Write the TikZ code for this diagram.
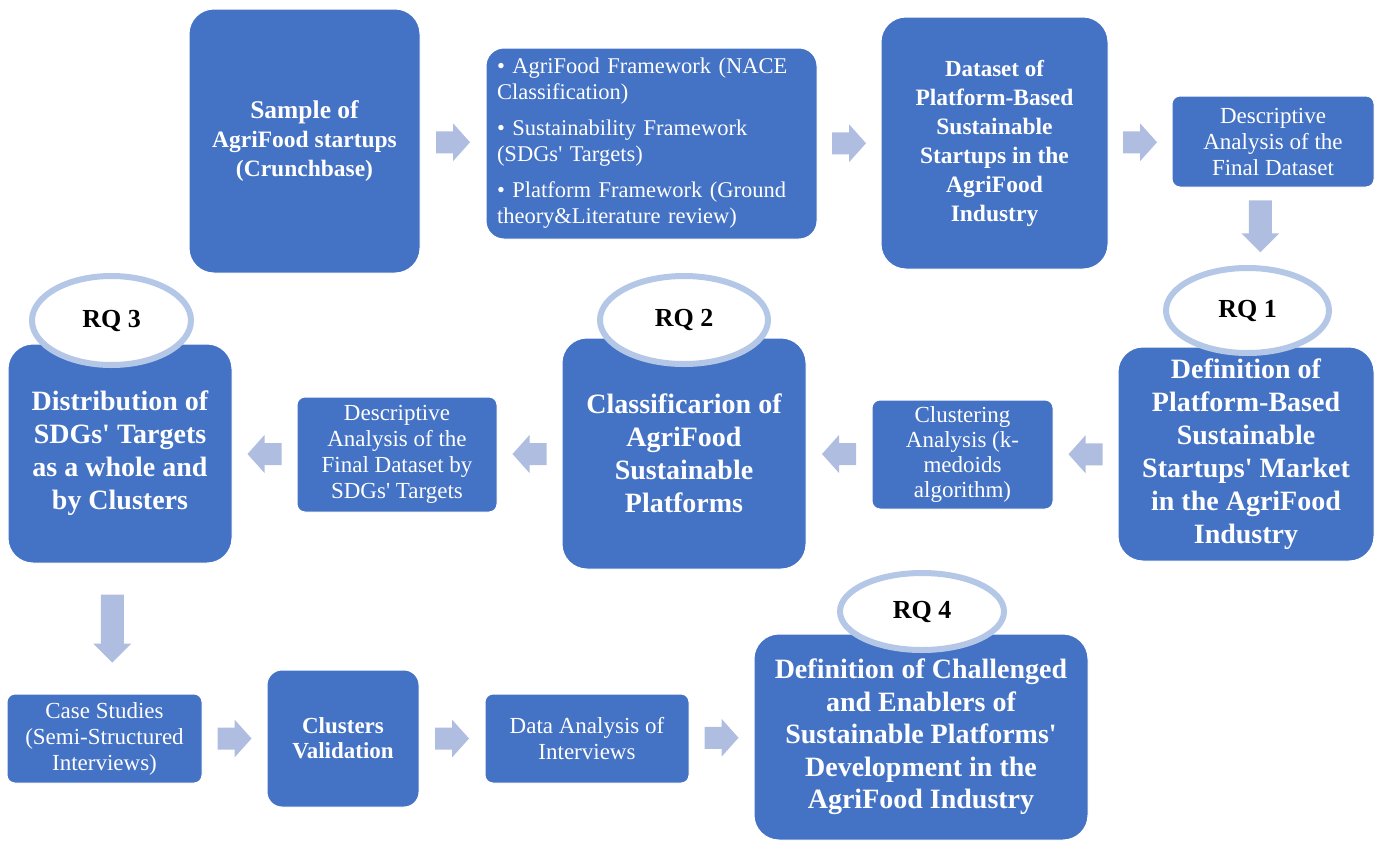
\documentclass[tikz,border=0pt]{standalone}
\usepackage{fontspec}
\setmainfont{Liberation Serif}
\usetikzlibrary{shapes.geometric,calc}

\definecolor{boxblue}{HTML}{4472C4}
\definecolor{arrowblue}{HTML}{AFBDE0}
\definecolor{ringblue}{HTML}{B4C7E7}

\newcommand\sq{\textquotesingle}

% block arrow: centre, rotation, length, head width, shaft width, head length
\newcommand\blockarrow[6]{%
  \fill[arrowblue, shift={(#1)}, rotate=#2]
    (-#3/2,-#5/2) -- (#3/2-#6,-#5/2) -- (#3/2-#6,-#4/2) -- (#3/2,0)
    -- (#3/2-#6,#4/2) -- (#3/2-#6,#5/2) -- (-#3/2,#5/2) -- cycle;}

\tikzset{
  boxbase/.style={rectangle, rounded corners=#1, fill=boxblue, draw=white,
    line width=1pt, text=white, align=center, inner sep=0pt},
  boxbase/.default=25pt,
  bigbox/.style={boxbase=25pt, font=\bfseries\fontsize{28}{33}\selectfont},
  midbox/.style={boxbase=25pt, font=\bfseries\fontsize{23.5}{29}\selectfont},
  smallbox/.style={boxbase=8pt, font=\fontsize{23}{26}\selectfont},
  rqring/.style={ellipse, fill=white, draw=ringblue, line width=6pt,
    inner sep=0pt, text=black, font=\bfseries\fontsize{26}{30}\selectfont},
}

\begin{document}
\begin{tikzpicture}[x=1pt, y=-1pt]
\useasboundingbox (0,0) rectangle (1378,841);

% ---- top row
\node[midbox, minimum width=231pt, minimum height=264pt] (A) at (304.5,141)
  {\fontsize{25.5}{29}\selectfont Sample of\\AgriFood startups\\(Crunchbase)};
\node[boxbase=18pt, minimum width=331pt, minimum height=191pt, align=left,
  text width=309pt, font=\fontsize{22.5}{26}\selectfont] (B) at (651.5,143.5)
  {\textbullet\ AgriFood Framework (NACE\\Classification)\\[10pt]
   \textbullet\ Sustainability Framework\\(SDGs\sq\ Targets)\\[10pt]
   \textbullet\ Platform Framework (Ground\\theory\&Literature review)};
\node[midbox, minimum width=227pt, minimum height=252pt] (C) at (994.5,143)
  {\fontsize{23}{29}\selectfont Dataset of\\Platform-Based\\Sustainable\\Startups in the\\AgriFood\\Industry};
\node[smallbox, minimum width=202pt, minimum height=91pt] (D) at (1273,141.5)
  {Descriptive\\Analysis of the\\Final Dataset};

% ---- middle row
\node[bigbox, minimum width=256pt, minimum height=214pt] (E) at (1246,454)
  {Definition of\\Platform-Based\\Sustainable\\Startups\sq\ Market\\in the AgriFood\\Industry};
\node[smallbox, minimum width=181pt, minimum height=109pt,
  font=\fontsize{23}{25}\selectfont] (F) at (962.5,454.5)
  {Clustering\\Analysis (k-\\medoids\\algorithm)};
\node[bigbox, minimum width=244pt, minimum height=231pt] (G) at (684,453.5)
  {Classificarion of\\AgriFood\\Sustainable\\Platforms};
\node[smallbox, minimum width=200pt, minimum height=115pt] (H) at (397,454.5)
  {Descriptive\\Analysis of the\\Final Dataset by\\SDGs\sq\ Targets};
\node[bigbox, minimum width=224pt, minimum height=219pt] (I) at (120,453.5)
  {Distribution of\\SDGs\sq\ Targets\\as a whole and\\by Clusters};

% ---- bottom row
\node[smallbox, minimum width=195pt, minimum height=89pt] (J) at (104.5,738.5)
  {Case Studies\\(Semi-Structured\\Interviews)};
\node[boxbase=15pt, minimum width=152pt, minimum height=137pt,
  font=\bfseries\fontsize{23}{25}\selectfont] (K) at (343,738.5)
  {Clusters\\Validation};
\node[smallbox, minimum width=204pt, minimum height=89pt] (L) at (587,738.5)
  {Data Analysis of\\Interviews};
\node[bigbox, minimum width=334pt, minimum height=206pt,
  font=\bfseries\fontsize{28}{32.5}\selectfont] (M) at (921,737)
  {Definition of Challenged\\and Enablers of\\Sustainable Platforms\sq\\Development in the\\AgriFood Industry};

% ---- research-question rings
\node[rqring, minimum width=163pt, minimum height=85pt] (rq1) at (1247.5,310.5) {RQ 1};
\node[rqring, minimum width=168pt, minimum height=88pt] (rq2) at (684,320) {RQ 2};
\node[rqring, minimum width=159pt, minimum height=89pt] (rq3) at (111.5,320.5) {RQ 3};
\node[rqring, minimum width=164pt, minimum height=77pt] (rq4) at (922,611.5) {RQ 4};

% ---- flow arrows
\blockarrow{$(A.east)!0.5!(B.west)$}{0}{34}{38}{22}{17}
\blockarrow{$(B.east)!0.5!(C.west)$}{0}{34}{38}{22}{17}
\blockarrow{$(C.east)!0.5!(D.west)$}{0}{34}{38}{22}{17}
\blockarrow{$(D.south)!0.5!(rq1.north)$}{-90}{52}{38}{23}{19}
\blockarrow{$(E.west)!0.5!(F.east)$}{180}{34}{38}{22}{17}
\blockarrow{$(F.west)!0.5!(G.east)$}{180}{34}{38}{22}{17}
\blockarrow{$(G.west)!0.5!(H.east)$}{180}{34}{38}{22}{17}
\blockarrow{$(H.west)!0.5!(I.east)$}{180}{34}{38}{22}{17}
\blockarrow{$(I.south)!0.5!(J.north)$}{-90}{68}{38}{23}{19}
\blockarrow{$(J.east)!0.5!(K.west)$}{0}{34}{38}{22}{17}
\blockarrow{$(K.east)!0.5!(L.west)$}{0}{34}{38}{22}{17}
\blockarrow{$(L.east)!0.5!(M.west)$}{0}{34}{38}{22}{17}
\end{tikzpicture}
\end{document}
